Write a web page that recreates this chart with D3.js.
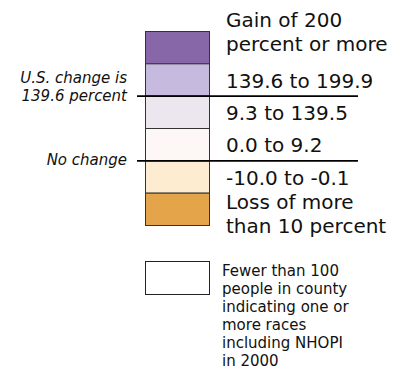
<!DOCTYPE html>
<meta charset="utf-8">
<script src="https://cdn.jsdelivr.net/npm/d3@7"></script>
<style>
body { margin: 0; background: #fff; }
text { font-family: "DejaVu Sans", sans-serif; fill: #111; }
.cls-label { font-size: 20px; }
.note { font-size: 15px; font-style: italic; }
.nodata { font-size: 15px; }
</style>
<body>
<div id="legend"></div>
<script>
// legend classes, top to bottom
var classLabels = [
  ["Gain of 200", "percent or more"],
  ["139.6 to 199.9"],
  ["9.3 to 139.5"],
  ["0.0 to 9.2"],
  ["-10.0 to -0.1"],
  ["Loss of more", "than 10 percent"]
];
var classColors = ["#8767a8", "#c6bade", "#ece7ef", "#fdf7f6", "#fdecd0", "#e3a44a"];

// reference lines: drawn on the boundary above class index "at"
var refLines = [
  {at: 2, text: ["U.S. change is", "139.6 percent"]},
  {at: 4, text: ["No change"]}
];

var noDataText = ["Fewer than 100", "people in county", "indicating one or",
                  "more races", "including NHOPI", "in 2000"];

var W = 395, H = 370;
var boxX = 145, boxW = 64, labelX = 226;

var svg = d3.select("#legend").append("svg")
    .attr("width", W).attr("height", H);

var y = d3.scaleBand()
    .domain(d3.range(classLabels.length))
    .range([31, 225])
    .padding(0);

// swatches
svg.append("g").selectAll("rect")
  .data(classColors).enter()
  .append("rect")
    .attr("x", boxX + 0.5)
    .attr("y", function(d, i) { return y(i) + 0.5; })
    .attr("width", boxW)
    .attr("height", y.bandwidth())
    .attr("fill", function(d) { return d; })
    .attr("stroke", "#333")
    .attr("stroke-width", 1);

// class labels
var lineH = 23.5;
var labels = svg.append("g").selectAll("text")
  .data(classLabels).enter()
  .append("text")
    .attr("class", "cls-label")
    .attr("x", labelX)
    .attr("y", function(d, i) {
      var c = y(i) + y.bandwidth() / 2;
      if (d.length == 1) return c + 8;
      // first multi-line label grows upward, last one downward
      return i == 0 ? c - 20 : c + 0.5;
    });
labels.selectAll("tspan")
  .data(function(d) { return d; }).enter()
  .append("tspan")
    .attr("x", labelX)
    .attr("dy", function(d, i) { return i == 0 ? 0 : lineH; })
    .text(function(d) { return d; });

// reference lines with italic notes
var refs = svg.append("g").selectAll("g")
  .data(refLines).enter()
  .append("g");

refs.append("line")
    .attr("x1", 137).attr("x2", 358)
    .attr("y1", function(d) { return y(d.at) + 0.5; })
    .attr("y2", function(d) { return y(d.at) + 0.5; })
    .attr("stroke", "#000")
    .attr("stroke-width", 1.6);

refs.each(function(d) {
  var g = d3.select(this);
  var n = d.text.length;
  d.text.forEach(function(t, k) {
    g.append("text")
      .attr("class", "note")
      .attr("x", 127)
      .attr("y", y(d.at) + 5 - (n - 1 - k) * 17.5)
      .attr("text-anchor", "end")
      .text(t);
  });
});

// no-data swatch
svg.append("rect")
    .attr("x", boxX + 0.5).attr("y", 261.5)
    .attr("width", boxW).attr("height", 33)
    .attr("fill", "#fff")
    .attr("stroke", "#222")
    .attr("stroke-width", 1);

svg.append("g").selectAll("text")
  .data(noDataText).enter()
  .append("text")
    .attr("class", "nodata")
    .attr("x", 222)
    .attr("y", function(d, i) { return 276 + i * 18; })
    .text(function(d) { return d; });
</script>
</body>
